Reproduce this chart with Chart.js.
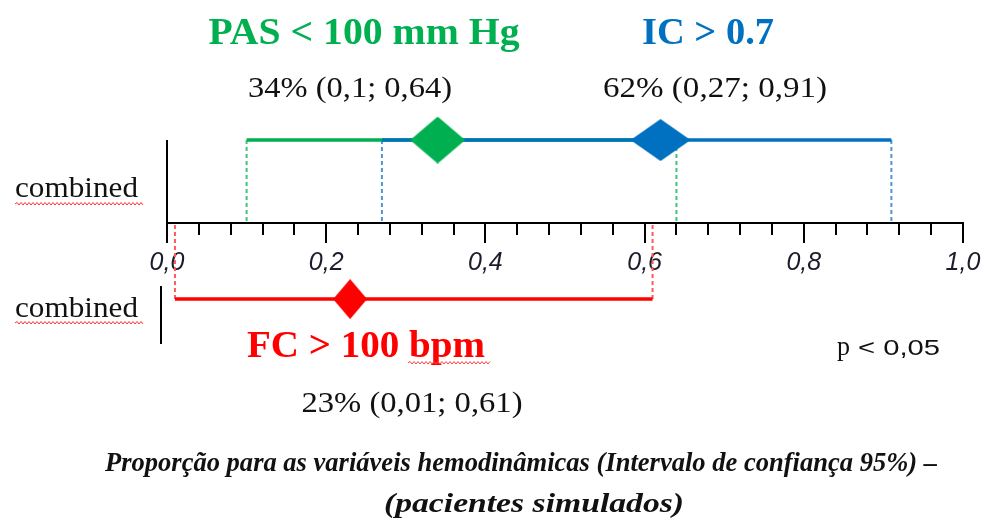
<!DOCTYPE html>
<html>
<head>
<meta charset="utf-8">
<script src="https://cdn.jsdelivr.net/npm/chart.js@4/dist/chart.umd.min.js"></script>
<style>
  html, body { margin: 0; padding: 0; background: #ffffff; }
  #wrap { width: 986px; height: 526px; }
</style>
</head>
<body>
<div id="wrap"><canvas id="chart" width="986" height="526"></canvas></div>
<script>
// Proportions with 95% confidence intervals for the haemodynamic variables
const categories = ['PAS < 100 mm Hg', 'IC > 0.7', 'FC > 100 bpm'];
const proportion = [0.34, 0.62, 0.23];
const ciLow = [0.10, 0.27, 0.01];
const ciHigh = [0.64, 0.91, 0.61];
const rowOfCategory = [0, 0, 1];
const rowLabels = ['combined', 'combined'];
const majorTicks = [0, 0.2, 0.4, 0.6, 0.8, 1.0];
const minorStep = 0.04;
const pValueText = 'p < 0,05';
const captionLines = [
  'Proporção para as variáveis hemodinâmicas (Intervalo de confiança 95%) –',
  '(pacientes simulados)'
];

// Styling / layout
const seriesColors = ['#00b050', '#0070c0', '#ff0000'];
const dropColors = ['#3fc47a', '#4f95d8', '#ff5a5a'];
const rowY = [1, -0.916];          // vertical position of each row on the hidden y scale
const yRange = { min: -3.65, max: 2.687 };

function decimalComma(v) { return String(v).replace('.', ','); }
function statText(i) {
  return Math.round(proportion[i] * 100) + '% (' + decimalComma(ciLow[i]) + '; ' + decimalComma(ciHigh[i]) + ')';
}

function diamondImage(w, h, color) {
  const c = document.createElement('canvas');
  c.width = w; c.height = h;
  const g = c.getContext('2d');
  g.fillStyle = color;
  g.beginPath();
  g.moveTo(w / 2, 0);
  g.lineTo(w, h / 2);
  g.lineTo(w / 2, h);
  g.lineTo(0, h / 2);
  g.closePath();
  g.fill();
  return c;
}
const diamondSizes = [[55, 47], [60, 42], [34, 40]];

const datasets = [];
// dashed drop lines from each interval end to the axis
categories.forEach((name, i) => {
  const y = rowY[rowOfCategory[i]];
  [ciLow[i], ciHigh[i]].forEach(v => {
    datasets.push({
      type: 'line',
      data: [{ x: v, y: y }, { x: v, y: 0 }],
      borderColor: dropColors[i],
      borderWidth: 2,
      borderDash: [4, 3],
      pointRadius: 0,
      order: 20,
      clip: false
    });
  });
});
// confidence interval bars
const barOrder = [8, 7, 7];
categories.forEach((name, i) => {
  const y = rowY[rowOfCategory[i]];
  datasets.push({
    type: 'line',
    label: name,
    data: [{ x: ciLow[i], y: y }, { x: ciHigh[i], y: y }],
    borderColor: seriesColors[i],
    borderWidth: 3.5,
    borderCapStyle: 'butt',
    pointRadius: 0,
    order: barOrder[i],
    clip: false
  });
});
// point estimates
categories.forEach((name, i) => {
  const y = rowY[rowOfCategory[i]];
  datasets.push({
    type: 'scatter',
    label: name + ' (estimate)',
    data: [{ x: proportion[i], y: y }],
    pointStyle: diamondImage(diamondSizes[i][0], diamondSizes[i][1], seriesColors[i]),
    pointRadius: 20,
    order: 3 - i,
    clip: false
  });
});

function fitText(ctx, text, x, baseline, font, width, color, align) {
  ctx.save();
  ctx.font = font;
  const w = ctx.measureText(text).width;
  const s = width / w;
  ctx.translate(x, baseline);
  ctx.scale(s, 1);
  ctx.textAlign = align || 'center';
  ctx.textBaseline = 'alphabetic';
  ctx.fillStyle = color;
  ctx.fillText(text, 0, 0);
  ctx.restore();
}

function squiggle(ctx, x0, x1, y, color) {
  ctx.save();
  ctx.strokeStyle = color;
  ctx.lineWidth = 1;
  ctx.beginPath();
  let up = true;
  ctx.moveTo(x0, y);
  for (let x = x0 + 2; x <= x1; x += 2) {
    ctx.lineTo(x, up ? y - 1.5 : y + 1);
    up = !up;
  }
  ctx.stroke();
  ctx.restore();
}

const annotations = {
  id: 'annotations',
  beforeDatasetsDraw(chart) {
    const ctx = chart.ctx;
    const xs = chart.scales.x, ys = chart.scales.y;
    const x0 = xs.getPixelForValue(0);
    ctx.save();
    ctx.strokeStyle = '#000';
    ctx.lineWidth = 2;
    // vertical reference line of the upper row
    ctx.beginPath();
    ctx.moveTo(x0, ys.getPixelForValue(rowY[0]));
    ctx.lineTo(x0, ys.getPixelForValue(0));
    ctx.stroke();
    // short marker of the lower row
    ctx.beginPath();
    ctx.moveTo(x0 - 6, ys.getPixelForValue(rowY[1]) - 13);
    ctx.lineTo(x0 - 6, ys.getPixelForValue(rowY[1]) + 45);
    ctx.stroke();
    ctx.restore();
  },
  afterDraw(chart) {
    const ctx = chart.ctx;
    const serif = '"Liberation Serif", "Times New Roman", serif';
    // variable titles
    fitText(ctx, categories[0], 364, 44, 'bold 37px ' + serif, 311, seriesColors[0]);
    fitText(ctx, categories[1], 708, 44, 'bold 37px ' + serif, 132, seriesColors[1]);
    fitText(ctx, categories[2], 366, 357, 'bold 37px ' + serif, 238, seriesColors[2]);
    squiggle(ctx, 408, 490, 363, '#ff4040');
    // estimates and intervals
    fitText(ctx, statText(0), 350, 97, '30px ' + serif, 204, '#111');
    fitText(ctx, statText(1), 715, 97, '30px ' + serif, 224, '#111');
    fitText(ctx, statText(2), 412, 412, '30px ' + serif, 221, '#111');
    // row labels
    fitText(ctx, rowLabels[0], 15, 197, '29px ' + serif, 123, '#111', 'left');
    squiggle(ctx, 15, 143, 204, '#ff3030');
    fitText(ctx, rowLabels[1], 15, 317, '29px ' + serif, 123, '#111', 'left');
    squiggle(ctx, 15, 143, 323, '#ff3030');
    // significance
    const parts = pValueText.split(' ');
    fitText(ctx, parts[0], 837, 355, '27px ' + serif, 13, '#111', 'left');
    fitText(ctx, parts.slice(1).join(' '), 858, 355, '22px "Liberation Sans", Arial, sans-serif', 82, '#111', 'left');
    // caption
    fitText(ctx, captionLines[0], 521, 471, 'italic bold 27px ' + serif, 832, '#111');
    fitText(ctx, captionLines[1], 534, 512, 'italic bold 28px ' + serif, 300, '#111');
  }
};

function noSpace(scale) {
  scale.height = 0;
  scale.paddingLeft = 0;
  scale.paddingRight = 0;
}

new Chart(document.getElementById('chart'), {
  type: 'scatter',
  data: { datasets: datasets },
  plugins: [annotations],
  options: {
    responsive: false,
    animation: false,
    layout: { autoPadding: false, padding: { left: 167, right: 23, top: 0, bottom: 0 } },
    plugins: { legend: { display: false }, tooltip: { enabled: false }, title: { display: false } },
    scales: {
      x: {
        type: 'linear',
        min: 0, max: 1,
        position: { y: 0 },
        afterBuildTicks(scale) { scale.ticks = majorTicks.map(v => ({ value: v })); },
        afterFit: noSpace,
        ticks: {
          autoSkip: false,
          maxRotation: 0,
          padding: 6,
          color: '#1c1c2c',
          font: { family: '"Liberation Sans", Arial, sans-serif', size: 25, style: 'italic' },
          callback: v => Number(v).toFixed(1).replace('.', ',')
        },
        grid: { drawOnChartArea: false, drawTicks: true, tickLength: 19, lineWidth: 2, tickColor: '#000' },
        border: { display: true, color: '#000', width: 2 }
      },
      xMinor: {
        type: 'linear',
        axis: 'x',
        min: 0, max: 1,
        position: { y: 0 },
        afterFit: noSpace,
        ticks: { display: false, stepSize: minorStep, maxTicksLimit: 40 },
        grid: { drawOnChartArea: false, drawTicks: true, tickLength: 12, lineWidth: 2, tickColor: '#000' },
        border: { display: false }
      },
      y: {
        type: 'linear',
        display: false,
        min: yRange.min, max: yRange.max
      }
    }
  }
});
</script>
</body>
</html>
